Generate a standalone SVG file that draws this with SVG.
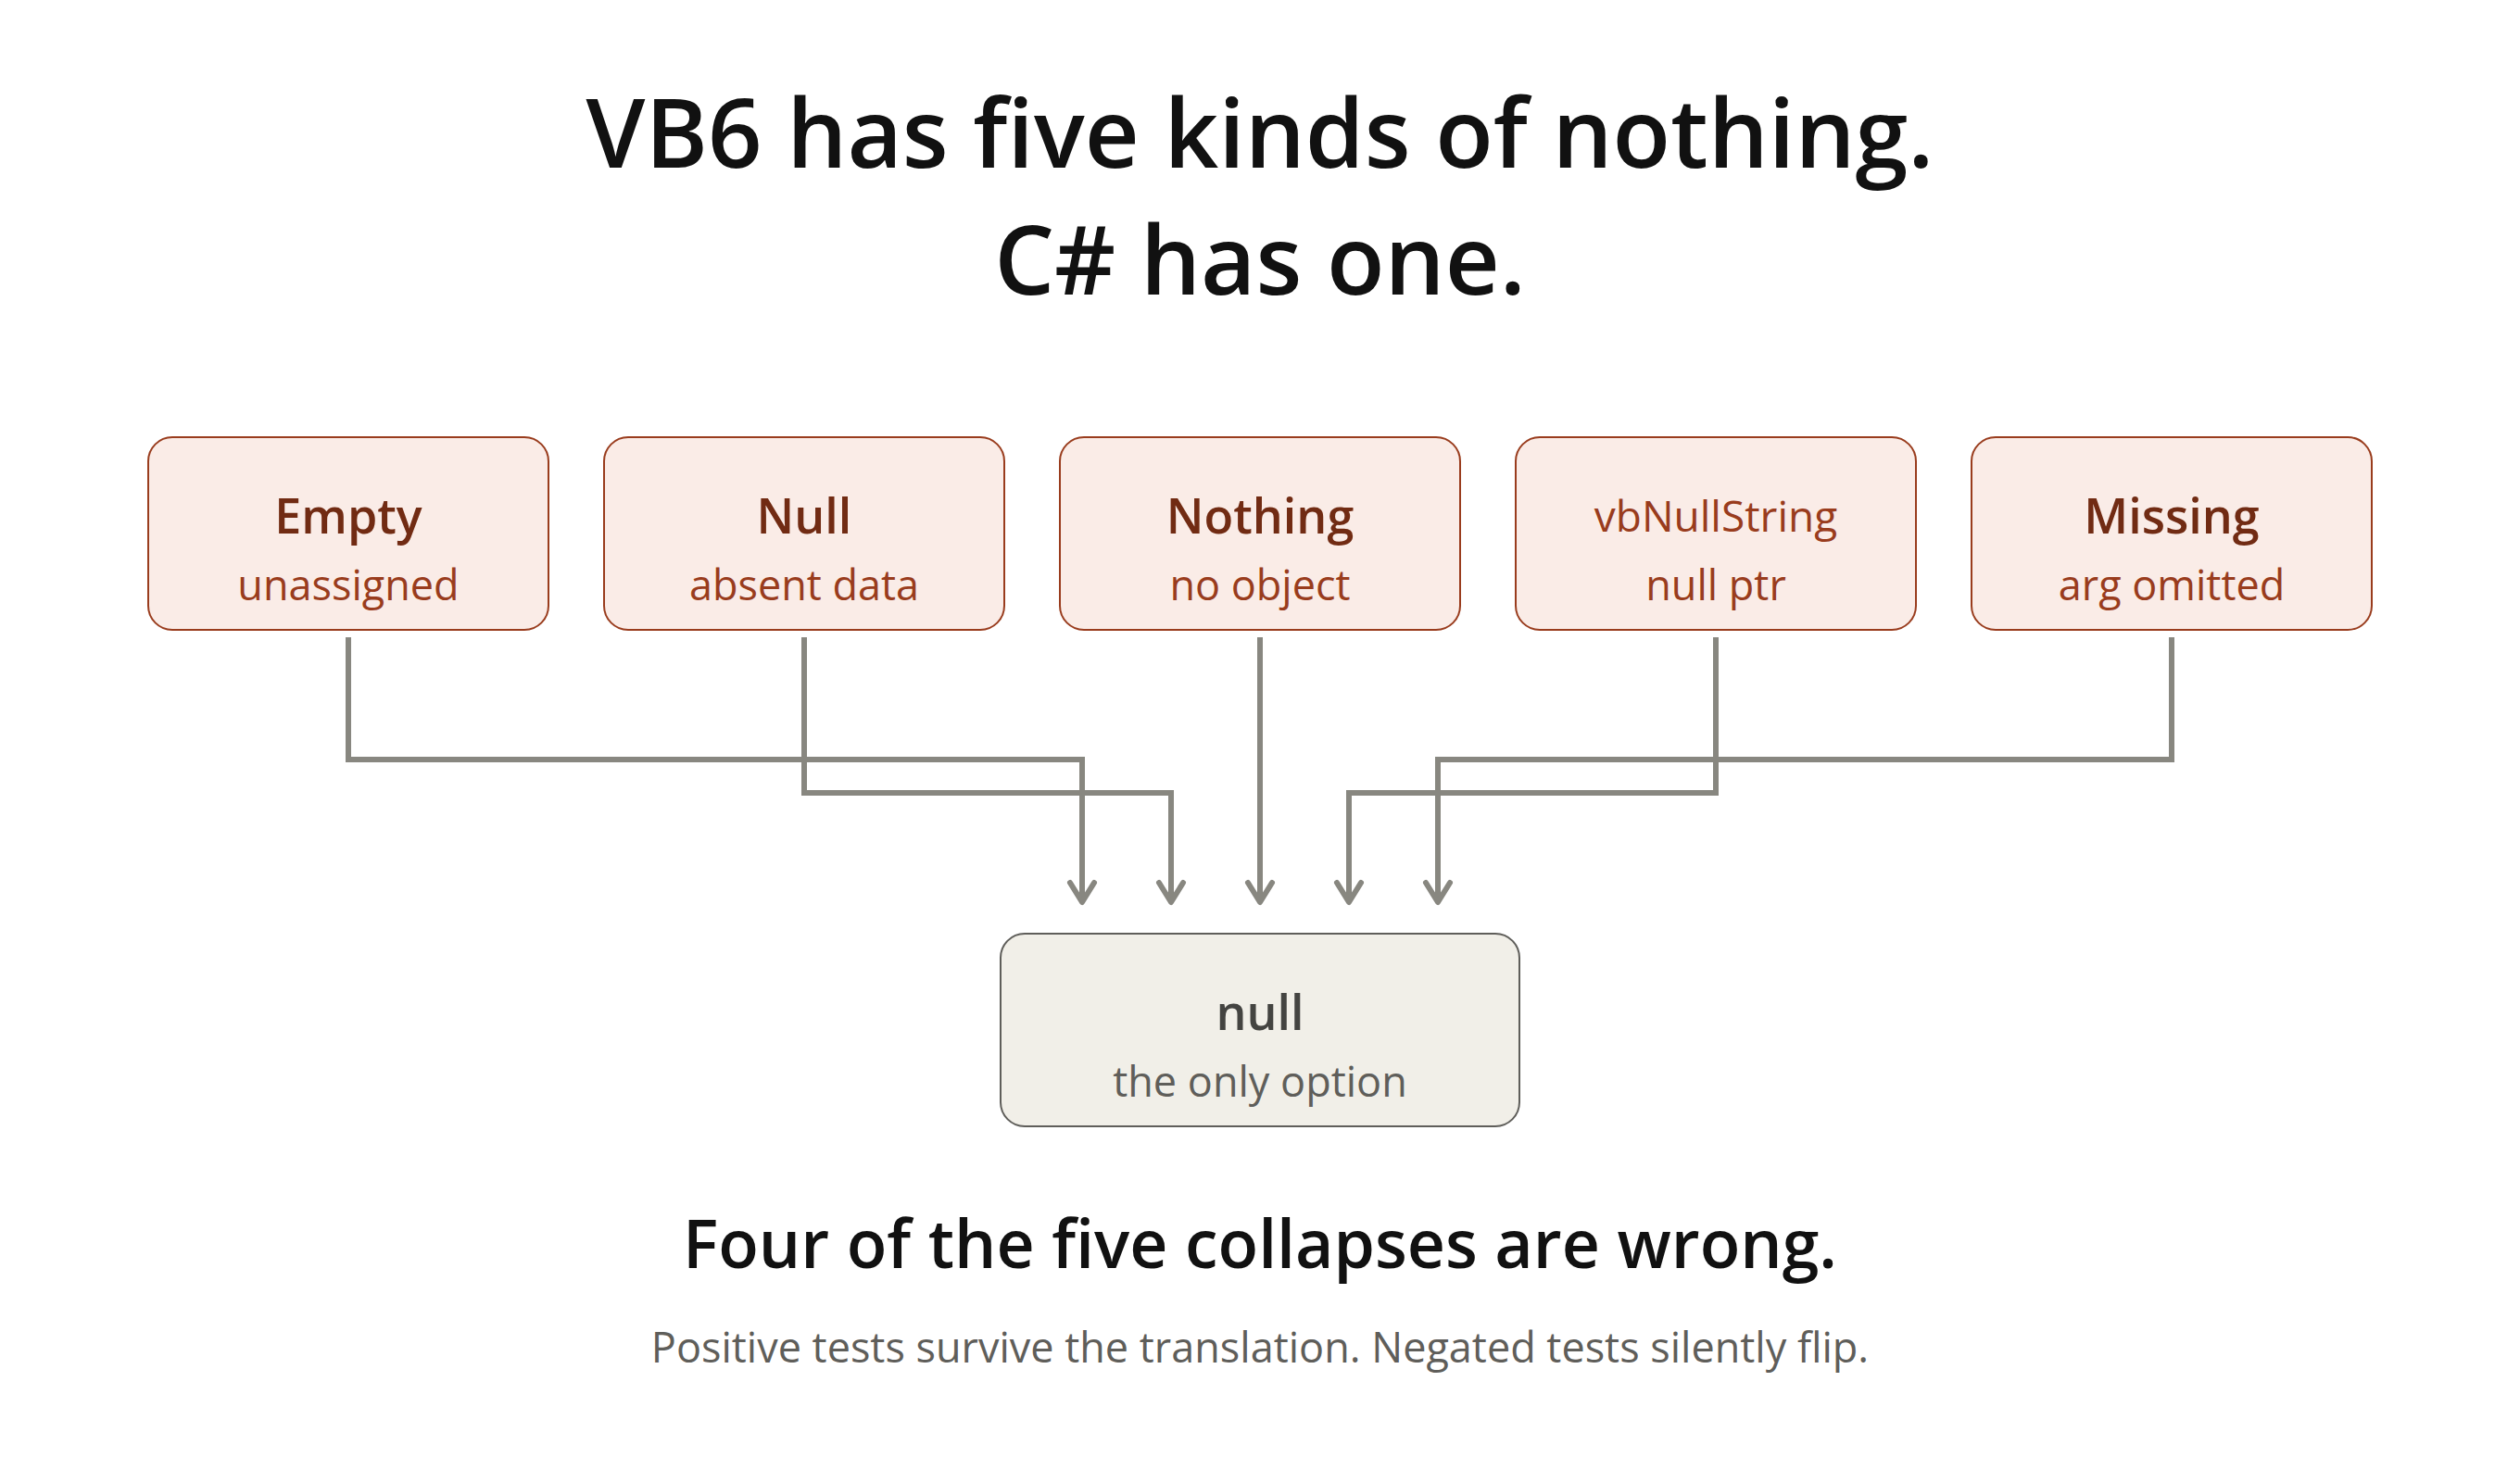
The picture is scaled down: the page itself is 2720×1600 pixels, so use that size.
<svg xmlns="http://www.w3.org/2000/svg" width="2720" height="1600" viewBox="0 0 2720 1600">
<style>
text{font-family:"Open Sans","Noto Sans","Liberation Sans",sans-serif;text-anchor:middle}
.h1{font-size:102.5px;font-weight:600;fill:#111111}
.h2{font-size:71.5px;font-weight:600;fill:#111111}
.foot{font-size:45px;fill:#5f5e5a}
.box{fill:#faece7;stroke:#993c1d;stroke-width:2}
.t{font-size:52px;font-weight:600;fill:#712b13}
.tr{font-size:46px;font-weight:400;fill:#993c1d}
.s{font-size:45px;fill:#993c1d}
.nbox{fill:#f1efe8;stroke:#5f5e5a;stroke-width:2}
.nt{font-size:52px;font-weight:600;fill:#444441}
.ns{font-size:45px;fill:#5f5e5a}
.c{fill:none;stroke:#888780;stroke-width:6;marker-end:url(#arr)}
</style>
<defs>
<marker id="arr" markerUnits="userSpaceOnUse" markerWidth="40" markerHeight="40" viewBox="-30 -20 40 40" refX="0" refY="0" orient="auto">
<path d="M-21 -13 L0 0 L-21 13" fill="none" stroke="#888780" stroke-width="6" stroke-linecap="round" stroke-linejoin="round"/>
</marker>
</defs>
<rect width="2720" height="1600" fill="#ffffff"/>
<g id="title">
<text class="h1" x="1360" y="181">VB6 has five kinds of nothing.</text>
<text class="h1" x="1360" y="318">C# has one.</text>
</g>
<g id="connectors">
<path class="c" d="M376 688 V820 H1168 V974"/>
<path class="c" d="M868 688 V856 H1264 V974"/>
<path class="c" d="M1360 688 V974"/>
<path class="c" d="M1852 688 V856 H1456 V974"/>
<path class="c" d="M2344 688 V820 H1552 V974"/>
</g>
<g id="node-empty">
<rect class="box" x="160" y="472" width="432" height="208" rx="26"/>
<text class="t" x="376" y="576">Empty</text>
<text class="s" x="376" y="648">unassigned</text>
</g>
<g id="node-null">
<rect class="box" x="652" y="472" width="432" height="208" rx="26"/>
<text class="t" x="868" y="576">Null</text>
<text class="s" x="868" y="648">absent data</text>
</g>
<g id="node-nothing">
<rect class="box" x="1144" y="472" width="432" height="208" rx="26"/>
<text class="t" x="1360" y="576">Nothing</text>
<text class="s" x="1360" y="648">no object</text>
</g>
<g id="node-vbnullstring">
<rect class="box" x="1636" y="472" width="432" height="208" rx="26"/>
<text class="tr" x="1852" y="574">vbNullString</text>
<text class="s" x="1852" y="648">null ptr</text>
</g>
<g id="node-missing">
<rect class="box" x="2128" y="472" width="432" height="208" rx="26"/>
<text class="t" x="2344" y="576">Missing</text>
<text class="s" x="2344" y="648">arg omitted</text>
</g>
<g id="node-csnull">
<rect class="nbox" x="1080" y="1008" width="560" height="208" rx="26"/>
<text class="nt" x="1360" y="1112">null</text>
<text class="ns" x="1360" y="1184">the only option</text>
</g>
<g id="caption">
<text class="h2" x="1360" y="1369">Four of the five collapses are wrong.</text>
<text class="foot" x="1360" y="1471">Positive tests survive the translation. Negated tests silently flip.</text>
</g>
</svg>
